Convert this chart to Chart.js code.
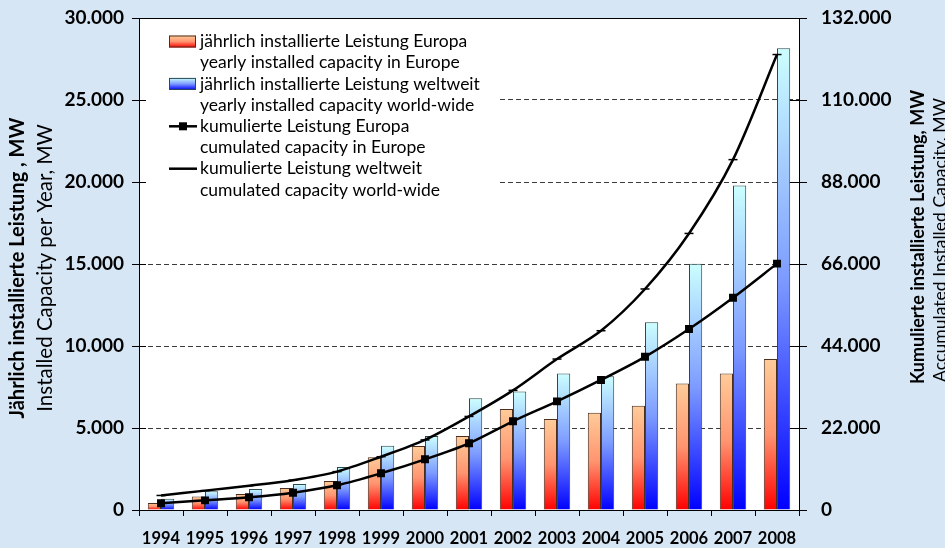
<!DOCTYPE html>
<html>
<head>
<meta charset="utf-8">
<script src="https://cdn.jsdelivr.net/npm/chart.js@4.4.0/dist/chart.umd.min.js"></script>
<style>
  html, body { margin: 0; padding: 0; background: #d7e6f4; }
  #wrap { width: 945px; height: 548px; }
</style>
</head>
<body>
<div id="wrap"><canvas id="myChart" width="945" height="548"></canvas></div>
<script>
// values
const years = ['1994', '1995', '1996', '1997', '1998', '1999', '2000', '2001', '2002', '2003', '2004', '2005', '2006', '2007', '2008'];
const europeYearly = [430, 830, 980, 1340, 1770, 3210, 3900, 4510, 6160, 5550, 5930, 6360, 7720, 8330, 9210];
const worldYearly = [690, 1140, 1280, 1590, 2620, 3920, 4510, 6810, 7220, 8330, 8150, 11450, 15020, 19780, 28150];
const europeCumulated = [1790, 2590, 3400, 4650, 6620, 9840, 13600, 17900, 23800, 29150, 34900, 41100, 48550, 56950, 66100];
const worldCumulated = [3900, 5200, 6500, 8000, 10300, 14300, 18800, 25100, 32100, 40500, 48100, 59300, 74200, 94000, 122200];

const leftMax = 30000, leftStep = 5000;
const rightMax = 132000, rightStep = 22000;

const namesDe = ['jährlich installierte Leistung Europa', 'jährlich installierte Leistung weltweit', 'kumulierte Leistung Europa', 'kumulierte Leistung weltweit'];
const namesEn = ['yearly installed capacity in Europe', 'yearly installed capacity world-wide', 'cumulated capacity in Europe', 'cumulated capacity world-wide'];

const leftTitle = ['Jährlich installierte Leistung , MW', 'Installed Capacity per Year, MW'];
const rightTitle = ['Kumulierte installierte Leistung, MW', 'Accumulated Installed Capacity, MW'];

const redStops = ['#ff0000', '#ff9470', '#ffcc99'];
const blueStops = ['#0000ff', '#7d9bff', '#ccffff'];

function fmt(v) {
  return String(v).replace(/\B(?=(\d{3})+(?!\d))/g, '.');
}

function barFill(c, stops) {
  const chart = c.chart;
  if (!chart.chartArea || !c.parsed) return stops[1];
  const ys = chart.scales[c.dataset.yAxisID];
  const base = ys.getPixelForValue(0);
  const top = ys.getPixelForValue(c.parsed.y);
  if (!isFinite(top) || top === base) return stops[1];
  const g = chart.ctx.createLinearGradient(0, base, 0, top);
  g.addColorStop(0, stops[0]);
  g.addColorStop(0.5, stops[1]);
  g.addColorStop(1, stops[2]);
  return g;
}

// no label overhang, so the plot area keeps its own padding
function noOverhang(s) {
  s.paddingTop = 0; s.paddingBottom = 0;
  s.paddingLeft = 0; s.paddingRight = 0;
}

const frame = {
  id: 'frame',
  beforeDraw(chart) {
    const { ctx, chartArea: a } = chart;
    ctx.save();
    ctx.fillStyle = '#d7e6f4';
    ctx.fillRect(0, 0, chart.width, chart.height);
    ctx.fillStyle = '#ffffff';
    ctx.fillRect(a.left, a.top, a.right - a.left, a.bottom - a.top);
    ctx.restore();
  },
  beforeDatasetsDraw(chart) {
    // legend box inside plot
    const { ctx, chartArea: a } = chart;
    const x0 = a.left + 30, lh = 21.2, y0 = a.top + 23.5;
    ctx.save();
    ctx.fillStyle = '#ffffff';
    ctx.fillRect(a.left + 1, a.top + 1, 360, 184);
    ctx.font = '17.5px Lato';
    ctx.fillStyle = '#000';
    ctx.textBaseline = 'middle';
    chart.data.datasets.forEach((ds, i) => {
      const cy = y0 + i * 2 * lh;
      if (ds.type === 'bar') {
        const st = i === 0 ? redStops : blueStops;
        const g = ctx.createLinearGradient(0, cy + 6, 0, cy - 6);
        g.addColorStop(0, st[0]); g.addColorStop(0.5, st[1]); g.addColorStop(1, st[2]);
        ctx.fillStyle = g;
        ctx.fillRect(x0, cy - 6, 27, 12);
        ctx.strokeStyle = ds.borderColor;
        ctx.lineWidth = 1;
        ctx.strokeRect(x0 + 0.5, cy - 5.5, 26, 11);
      } else {
        ctx.strokeStyle = '#000';
        ctx.lineWidth = 2.5;
        ctx.beginPath(); ctx.moveTo(x0, cy); ctx.lineTo(x0 + 28, cy); ctx.stroke();
        if (ds.pointStyle === 'rect') {
          ctx.fillStyle = '#000';
          ctx.fillRect(x0 + 10, cy - 4, 8, 8);
        }
      }
      ctx.fillStyle = '#000';
      ctx.fillText(namesDe[i], x0 + 31, cy);
      ctx.fillText(namesEn[i], x0 + 31, cy + lh);
    });
    ctx.restore();
  },
  afterDraw(chart) {
    const { ctx, chartArea: a, scales } = chart;
    ctx.save();
    ctx.strokeStyle = '#000';
    ctx.lineWidth = 1;
    // top border
    ctx.beginPath();
    ctx.moveTo(a.left, Math.round(a.top) + 0.5);
    ctx.lineTo(a.right, Math.round(a.top) + 0.5);
    ctx.stroke();
    // crossing ticks on both value axes
    scales.y.ticks.forEach(t => {
      const py = Math.round(scales.y.getPixelForValue(t.value)) + 0.5;
      ctx.beginPath(); ctx.moveTo(a.left - 7, py); ctx.lineTo(a.left + 7, py); ctx.stroke();
    });
    scales.y1.ticks.forEach(t => {
      const py = Math.round(scales.y1.getPixelForValue(t.value)) + 0.5;
      ctx.beginPath(); ctx.moveTo(a.right - 9, py); ctx.lineTo(a.right + 8, py); ctx.stroke();
    });
    // axis titles
    ctx.fillStyle = '#000';
    ctx.textAlign = 'center';
    ctx.textBaseline = 'middle';
    const drawV = (x, y, text, font) => {
      ctx.save();
      ctx.translate(x, y);
      ctx.rotate(-Math.PI / 2);
      ctx.font = font;
      ctx.fillText(text, 0, 0);
      ctx.restore();
    };
    drawV(18, 268, leftTitle[0], 'bold 20px Lato');
    drawV(45, 268, leftTitle[1], '20.5px Lato');
    drawV(918, 237, rightTitle[0], 'bold 18px Lato');
    drawV(940, 240, rightTitle[1], '17.6px Lato');
    ctx.restore();
  }
};

const ctx = document.getElementById('myChart').getContext('2d');

const myChart = new Chart(ctx, {
  data: {
    labels: years,
    datasets: [
      {
        type: 'bar', label: namesDe[0], data: europeYearly, yAxisID: 'y',
        backgroundColor: c => barFill(c, redStops),
        borderColor: '#4a2e1e', borderWidth: 1,
        categoryPercentage: 0.6, barPercentage: 1, order: 2
      },
      {
        type: 'bar', label: namesDe[1], data: worldYearly, yAxisID: 'y',
        backgroundColor: c => barFill(c, blueStops),
        borderColor: '#2b4a4c', borderWidth: 1,
        categoryPercentage: 0.6, barPercentage: 1, order: 2
      },
      {
        type: 'line', label: namesDe[2], data: europeCumulated, yAxisID: 'y1',
        borderColor: '#000', borderWidth: 2.5, tension: 0.3,
        pointStyle: 'rect', pointRadius: 5.6, pointBackgroundColor: '#000',
        pointBorderColor: '#000', pointBorderWidth: 0, order: 1
      },
      {
        type: 'line', label: namesDe[3], data: worldCumulated, yAxisID: 'y1',
        borderColor: '#000', borderWidth: 2.5, tension: 0.3,
        pointStyle: 'line', pointRadius: 4.5, pointBorderColor: '#000',
        pointBorderWidth: 1.5, order: 1
      }
    ]
  },
  options: {
    responsive: false,
    animation: false,
    layout: { padding: { top: 18, left: 0, right: 0, bottom: 0 } },
    plugins: { legend: { display: false }, tooltip: { enabled: false } },
    scales: {
      x: {
        offset: true,
        grid: { display: true, offset: true, drawOnChartArea: false, drawTicks: true, tickLength: 6, color: '#000', lineWidth: 1 },
        border: { display: true, color: '#000', width: 1 },
        ticks: { color: '#000', font: { family: 'Lato', weight: 'bold', size: 16.5 }, padding: 13, maxRotation: 0, autoSkip: false },
        afterFit: s => { s.height = 38; noOverhang(s); }
      },
      y: {
        position: 'left', min: 0, max: leftMax,
        ticks: { stepSize: leftStep, callback: v => fmt(v), color: '#000', font: { family: 'Lato', weight: 'bold', size: 19 }, padding: 15 },
        grid: {
          drawTicks: false, lineWidth: 1,
          color: c => (c.tick && (c.tick.value === 0 || c.tick.value === leftMax)) ? 'rgba(0,0,0,0)' : '#3a3a3a'
        },
        border: { display: true, color: '#000', width: 1, dash: [5, 3] },
        afterFit: s => { s.width = 139; noOverhang(s); }
      },
      y1: {
        position: 'right', min: 0, max: rightMax,
        ticks: { stepSize: rightStep, callback: v => fmt(v), color: '#000', font: { family: 'Lato', weight: 'bold', size: 19 }, padding: 14 },
        grid: { display: false, drawOnChartArea: false },
        border: { display: true, color: '#000', width: 1 },
        afterFit: s => { s.width = 146; noOverhang(s); }
      }
    }
  },
  plugins: [frame]
});
</script>
</body>
</html>
